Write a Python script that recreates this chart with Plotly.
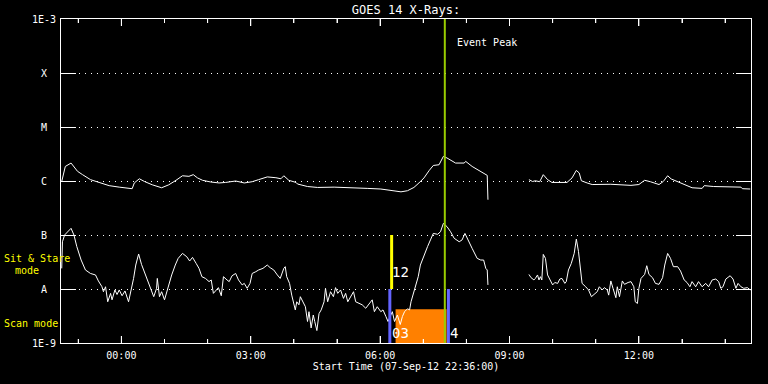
import math
import pandas as pd
import plotly.graph_objects as go

# ---------------- data ----------------
start_time = "2012-09-07 22:36"
end_time = "2012-09-08 14:36"

class_labels = ["1E-9", "A", "B", "C", "M", "X", "1E-3"]
class_values = [1e-9, 1e-8, 1e-7, 1e-6, 1e-5, 1e-4, 1e-3]

x_tick_labels = ["00:00", "03:00", "06:00", "09:00", "12:00"]

# long channel (upper curve), first segment
long_times_a = ["22:37", "22:39", "22:42", "22:50", "22:54", "22:59", "23:06", "23:17", "23:29", "23:43",
                "23:57", "00:15", "00:18", "00:25", "00:32", "00:43", "00:56", "01:06", "01:16", "01:25",
                "01:34", "01:40", "01:46", "01:53", "02:04", "02:16", "02:25", "02:39", "02:51", "03:02",
                "03:11", "03:23", "03:35", "03:42", "03:46", "03:53", "04:03", "04:05", "04:19", "04:33",
                "04:56", "05:19", "05:42", "06:01", "06:15", "06:29", "06:38", "06:47", "06:54", "07:01",
                "07:08", "07:14", "07:22", "07:28", "07:33", "07:45", "07:57", "07:59", "08:08", "08:18",
                "08:29", "08:30"]
long_flux_a = [9.8e-7, 1.31e-6, 1.86e-6, 2.15e-6, 1.86e-6, 1.51e-6, 1.31e-6, 1.06e-6, 9.4e-7, 8.2e-7,
               7.7e-7, 7.2e-7, 9.2e-7, 1.10e-6, 9.8e-7, 8.5e-7, 7.5e-7, 8.5e-7, 1.03e-6, 1.25e-6,
               1.22e-6, 1.31e-6, 1.14e-6, 1.03e-6, 9.6e-7, 9.2e-7, 9.4e-7, 1.0e-6, 9.2e-7, 9.7e-7,
               1.06e-6, 1.19e-6, 1.15e-6, 1.10e-6, 1.25e-6, 1.03e-6, 9.4e-7, 8.8e-7, 7.9e-7, 7.6e-7,
               7.7e-7, 7.6e-7, 7.3e-7, 7.1e-7, 6.6e-7, 6.3e-7, 6.6e-7, 7.6e-7, 9.2e-7, 1.14e-6,
               1.55e-6, 1.94e-6, 2.0e-6, 2.86e-6, 2.67e-6, 2.15e-6, 2.15e-6, 2.31e-6, 1.86e-6, 1.55e-6,
               1.27e-6, 4.5e-7]

# long channel, second segment
long_times_b = ["09:27", "09:32", "09:36", "09:42", "09:47", "09:53", "09:59", "10:16", "10:20", "10:27",
                "10:33", "10:37", "10:40", "10:48", "10:55", "11:21", "11:35", "11:49", "12:00", "12:08",
                "12:16", "12:28", "12:34", "12:40", "12:45", "12:54", "13:05", "13:14", "13:28", "13:31",
                "13:44", "14:08", "14:22", "14:24", "14:35"]
long_flux_b = [1.06e-6, 9.8e-7, 1.01e-6, 9.7e-7, 1.31e-6, 1.06e-6, 9.4e-7, 9.2e-7, 9.4e-7, 1.14e-6,
               1.57e-6, 1.41e-6, 1.01e-6, 9.2e-7, 8.6e-7, 8.7e-7, 8.6e-7, 8.3e-7, 8.6e-7, 1.03e-6,
               9.7e-7, 8.6e-7, 9.8e-7, 1.25e-6, 1.09e-6, 9.8e-7, 8.4e-7, 7.5e-7, 7.3e-7, 8.2e-7,
               7.9e-7, 7.7e-7, 7.7e-7, 7.2e-7, 7.1e-7]

# short channel (lower curve), first segment
short_times_a = ["22:37", "22:38", "22:41", "22:46", "22:50", "22:54", "22:58", "23:04", "23:10", "23:17",
                 "23:24", "23:28", "23:33", "23:35", "23:38", "23:41", "23:45", "23:47", "23:51", "23:54",
                 "23:57", "00:01", "00:05", "00:10", "00:14", "00:17", "00:20", "00:24", "00:28", "00:32",
                 "00:37", "00:42", "00:45", "00:49", "00:50", "00:53", "00:56", "01:00", "01:03", "01:07",
                 "01:10", "01:15", "01:19", "01:25", "01:31", "01:35", "01:39", "01:44", "01:48", "01:52",
                 "01:57", "02:02", "02:05", "02:08", "02:12", "02:15", "02:19", "02:22", "02:27", "02:30",
                 "02:34", "02:39", "02:43", "02:48", "02:51", "02:55", "02:59", "03:02", "03:07", "03:11",
                 "03:17", "03:23", "03:27", "03:32", "03:37", "03:41", "03:46", "03:48", "03:50", "03:54",
                 "03:57", "04:02", "04:04", "04:07", "04:09", "04:13", "04:16", "04:19", "04:21", "04:24",
                 "04:27", "04:29", "04:32", "04:35", "04:38", "04:42", "04:44", "04:47", "04:51", "04:55",
                 "04:58", "05:01", "05:05", "05:09", "05:12", "05:15", "05:19", "05:23", "05:26", "05:31",
                 "05:35", "05:40", "05:45", "05:49", "05:52", "05:56", "06:01", "06:04", "06:08", "06:11",
                 "06:17", "06:20", "06:24", "06:28", "06:31", "06:34", "06:38", "06:41", "06:43", "06:46",
                 "06:49", "06:53", "06:56", "07:01", "07:06", "07:10", "07:14", "07:20", "07:24", "07:28",
                 "07:33", "07:38", "07:43", "07:50", "07:54", "07:58", "08:02", "08:08", "08:15", "08:20",
                 "08:24", "08:27", "08:29", "08:30"]
short_flux_a = [2.41e-8, 7.5e-8, 1.0e-7, 1.15e-7, 1.33e-7, 1.0e-7, 6.1e-8, 3.44e-8, 2.25e-8, 1.94e-8,
                1.82e-8, 1.41e-8, 1.10e-8, 8.9e-9, 1.10e-8, 5.8e-9, 8.3e-9, 6.3e-9, 9.6e-9, 7.9e-9,
                9.6e-9, 7.5e-9, 9.2e-9, 5.8e-9, 9.6e-9, 1.57e-8, 2.78e-8, 4.45e-8, 2.86e-8, 2.09e-8,
                1.37e-8, 9.6e-9, 7.2e-9, 1.03e-8, 1.57e-8, 7.2e-9, 8.9e-9, 6.3e-9, 8.9e-9, 1.27e-8,
                1.82e-8, 2.78e-8, 3.69e-8, 4.56e-8, 3.96e-8, 3.30e-8, 3.85e-8, 2.98e-8, 2.41e-8, 1.69e-8,
                1.57e-8, 1.37e-8, 1.47e-8, 8.3e-9, 9.6e-9, 1.06e-8, 7.5e-9, 1.69e-8, 1.47e-8, 1.37e-8,
                1.76e-8, 1.94e-8, 1.47e-8, 1.19e-8, 1.27e-8, 1.03e-8, 1.27e-8, 1.94e-8, 2.09e-8, 2.25e-8,
                2.41e-8, 2.78e-8, 2.48e-8, 2.25e-8, 1.82e-8, 1.57e-8, 2.41e-8, 2.59e-8, 1.69e-8, 1.27e-8,
                7.7e-9, 4.1e-9, 5.8e-9, 5.1e-9, 7.2e-9, 5.4e-9, 4.7e-9, 2.5e-9, 3.8e-9, 1.9e-9,
                3.3e-9, 2.5e-9, 1.7e-9, 3.5e-9, 4.1e-9, 5.8e-9, 1.03e-8, 5.8e-9, 8.9e-9, 7.2e-9,
                1.06e-8, 8.3e-9, 9.6e-9, 6.7e-9, 8.3e-9, 5.8e-9, 7.2e-9, 8.9e-9, 5.8e-9, 5.4e-9,
                5.1e-9, 4.4e-9, 5.4e-9, 6.3e-9, 3.8e-9, 4.7e-9, 3.8e-9, 4.1e-9, 3.1e-9, 2.5e-9,
                3.8e-9, 2.5e-9, 3.3e-9, 2.2e-9, 3.1e-9, 3.8e-9, 4.3e-9, 4.1e-9, 5.8e-9, 8.3e-9,
                1.19e-8, 1.69e-8, 2.78e-8, 4.26e-8, 6.1e-8, 8.1e-8, 1.07e-7, 1.03e-7, 1.15e-7, 1.64e-7,
                1.43e-7, 1.15e-7, 8.7e-8, 7.5e-8, 8.1e-8, 1.07e-7, 8.1e-8, 5.65e-8, 3.69e-8, 3.44e-8,
                3.44e-8, 2.41e-8, 2.25e-8, 1.19e-8]

# short channel, second segment
short_times_b = ["09:27", "09:30", "09:34", "09:36", "09:39", "09:41", "09:43", "09:45", "09:47", "09:50",
                 "09:53", "09:56", "10:00", "10:03", "10:07", "10:10", "10:13", "10:17", "10:19", "10:22",
                 "10:26", "10:30", "10:33", "10:36", "10:39", "10:41", "10:46", "10:50", "10:54", "10:58",
                 "11:02", "11:05", "11:09", "11:12", "11:16", "11:18", "11:21", "11:24", "11:28", "11:30",
                 "11:33", "11:37", "11:40", "11:45", "11:49", "11:53", "11:55", "11:58", "12:00", "12:03",
                 "12:08", "12:11", "12:14", "12:19", "12:23", "12:28", "12:33", "12:36", "12:40", "12:44",
                 "12:48", "12:54", "12:58", "13:03", "13:07", "13:11", "13:14", "13:19", "13:23", "13:28",
                 "13:33", "13:37", "13:42", "13:47", "13:51", "13:54", "13:57", "14:01", "14:07", "14:11",
                 "14:15", "14:18", "14:22", "14:26", "14:31", "14:35"]
short_flux_b = [1.86e-8, 1.62e-8, 1.47e-8, 1.57e-8, 1.82e-8, 1.47e-8, 1.69e-8, 1.47e-8, 4.37e-8, 3.69e-8,
                1.82e-8, 1.47e-8, 1.19e-8, 1.32e-8, 1.27e-8, 1.53e-8, 1.57e-8, 1.27e-8, 1.37e-8, 2.25e-8,
                2.98e-8, 4.56e-8, 8.4e-8, 4.91e-8, 1.94e-8, 1.27e-8, 1.10e-8, 9.6e-9, 7.2e-9, 7.9e-9,
                8.9e-9, 1.10e-8, 9.6e-9, 1.06e-8, 9.6e-9, 7.7e-9, 1.41e-8, 1.03e-8, 6.9e-9, 1.10e-8,
                7.2e-9, 1.41e-8, 1.22e-8, 1.32e-8, 1.37e-8, 1.10e-8, 5.8e-9, 5.4e-9, 1.03e-8, 1.57e-8,
                1.86e-8, 2.70e-8, 1.86e-8, 1.62e-8, 1.27e-8, 1.22e-8, 1.62e-8, 2.78e-8, 4.56e-8, 3.69e-8,
                2.59e-8, 2.59e-8, 2.15e-8, 1.47e-8, 1.32e-8, 1.10e-8, 1.37e-8, 1.10e-8, 1.37e-8, 1.10e-8,
                1.27e-8, 1.10e-8, 1.47e-8, 1.53e-8, 1.37e-8, 1.03e-8, 1.10e-8, 1.53e-8, 1.76e-8, 1.53e-8,
                1.03e-8, 1.27e-8, 1.10e-8, 1.03e-8, 1.06e-8, 9.6e-9]

# observation markers
event_peak_time = "07:30"
sit_stare_time = "06:16"
sit_stare_range = [1e-8, 1e-7]
scan_times = ["06:13:30", "07:35"]
scan_range = [1e-9, 1e-8]
scan_block_times = ["06:21:30", "07:32:30"]
scan_block_range = [1e-9, 4.2e-9]
obs_labels = ["12", "03", "4"]

# ---------------- helpers ----------------
def to_dt(t):
    h = int(t[:2])
    day = "2012-09-07" if h >= 22 else "2012-09-08"
    if len(t) == 5:
        t = t + ":00"
    return f"{day} {t}"

WHITE = "#ffffff"
GREEN = "#99cc00"
BLUE = "#6464ff"
ORANGE = "#ff8000"
YELLOW = "#ffff00"
FONT = "DejaVu Sans Mono"
HOUR_MS = 3600000
plot_w = 690.0
plot_h = 324.0
px_per_decade = plot_h / 6.0

fig = go.Figure()

# orange scan block
bx0, bx1 = to_dt(scan_block_times[0]), to_dt(scan_block_times[1])
fig.add_trace(go.Scatter(
    x=[bx0, bx1, bx1, bx0, bx0],
    y=[scan_block_range[0], scan_block_range[0], scan_block_range[1], scan_block_range[1], scan_block_range[0]],
    fill="toself", fillcolor=ORANGE, line=dict(width=0, color=ORANGE), mode="lines", hoverinfo="skip"))

# curves
for tt, ff in [(long_times_a, long_flux_a), (long_times_b, long_flux_b),
               (short_times_a, short_flux_a), (short_times_b, short_flux_b)]:
    fig.add_trace(go.Scatter(x=[to_dt(t) for t in tt], y=ff, mode="lines",
                             line=dict(color=WHITE, width=1)))

# blue scan markers
for t in scan_times:
    fig.add_trace(go.Scatter(x=[to_dt(t), to_dt(t)], y=scan_range, mode="lines",
                             line=dict(color=BLUE, width=3)))

# yellow sit & stare marker
fig.add_trace(go.Scatter(x=[to_dt(sit_stare_time)] * 2, y=sit_stare_range, mode="lines",
                         line=dict(color=YELLOW, width=3)))

# event peak
fig.add_trace(go.Scatter(x=[to_dt(event_peak_time)] * 2, y=[class_values[0], class_values[-1]],
                         mode="lines", line=dict(color=GREEN, width=2)))

# hourly time ticks on bottom and top frame (major every 3 h), sized in axis units
tick_x, tick_y = [], []
lo, hi = math.log10(class_values[0]), math.log10(class_values[-1])
for ts in pd.date_range("2012-09-07 23:00", "2012-09-08 14:00", freq="1h"):
    length = (7 if ts.hour % 3 == 0 else 4) / px_per_decade
    s = ts.strftime("%Y-%m-%d %H:%M")
    tick_x += [s, s, None, s, s, None]
    tick_y += [10 ** lo, 10 ** (lo + length), None, 10 ** hi, 10 ** (hi - length), None]
fig.add_trace(go.Scatter(x=tick_x, y=tick_y, mode="lines", line=dict(color=WHITE, width=1),
                         hoverinfo="skip", cliponaxis=False))

annotations = []
for lab, v in zip(class_labels, class_values):
    annotations.append(dict(text=lab, xref="paper", yref="y", x=-17 / plot_w, y=math.log10(v),
                            xanchor="center", yanchor="middle", showarrow=False,
                            font=dict(color=WHITE, size=10, family=FONT)))

annotations += [
    dict(text="Sit & Stare", xref="paper", yref="paper", x=-59.5 / plot_w, y=(343.3 - 258.7) / plot_h,
         xanchor="left", yanchor="middle", showarrow=False, font=dict(color=YELLOW, size=10, family=FONT)),
    dict(text="mode", xref="paper", yref="paper", x=-48.5 / plot_w, y=(343.3 - 271) / plot_h,
         xanchor="left", yanchor="middle", showarrow=False, font=dict(color=YELLOW, size=10, family=FONT)),
    dict(text="Scan mode", xref="paper", yref="paper", x=-59.5 / plot_w, y=(343.3 - 324) / plot_h,
         xanchor="left", yanchor="middle", showarrow=False, font=dict(color=YELLOW, size=10, family=FONT)),
    dict(text="Event Peak", xref="x", yref="paper", x=to_dt(event_peak_time), xshift=10,
         y=(343.3 - 42.7) / plot_h, xanchor="left", yanchor="middle", showarrow=False,
         font=dict(color=WHITE, size=10, family=FONT)),
    dict(text=obs_labels[0], xref="x", yref="paper", x=to_dt(sit_stare_time), xshift=-2,
         y=(343.3 - 272) / plot_h, xanchor="left", yanchor="middle", showarrow=False,
         font=dict(color=WHITE, size=14, family=FONT)),
    dict(text=obs_labels[1], xref="x", yref="paper", x=to_dt(scan_times[0]), xshift=0,
         y=(343.3 - 333.5) / plot_h, xanchor="left", yanchor="middle", showarrow=False,
         font=dict(color=WHITE, size=14, family=FONT)),
    dict(text=obs_labels[2], xref="x", yref="paper", x=to_dt(scan_times[1]), xshift=0,
         y=(343.3 - 333.5) / plot_h, xanchor="left", yanchor="middle", showarrow=False,
         font=dict(color=WHITE, size=14, family=FONT)),
]

fig.update_layout(
    width=768, height=384,
    margin=dict(l=61, r=17, t=19, b=41),
    paper_bgcolor="black", plot_bgcolor="black",
    showlegend=False,
    font=dict(family=FONT, color=WHITE, size=10),
    title=dict(text="GOES 14 X-Rays:", x=0.5, xref="paper", y=1 - 10 / 384, yref="container",
               xanchor="center", yanchor="middle", font=dict(size=12, color=WHITE, family=FONT)),
    annotations=annotations,
    xaxis=dict(
        type="date", range=[start_time, end_time],
        tickmode="linear", tick0=to_dt(x_tick_labels[0]), dtick=3 * HOUR_MS, tickformat="%H:%M",
        ticks="inside", ticklen=7, tickcolor=WHITE, tickwidth=1,
        showline=True, linecolor=WHITE, linewidth=1, mirror="ticks",
        showgrid=False, zeroline=False,
        ticklabelstandoff=3,
        tickfont=dict(size=10, color=WHITE, family=FONT),
        minor=dict(dtick=HOUR_MS, ticks="inside", ticklen=4,
                   tickcolor=WHITE, tickwidth=1, showgrid=False),
        title=dict(text="Start Time (07-Sep-12 22:36:00)", standoff=2,
                   font=dict(size=10, color=WHITE, family=FONT)),
    ),
    yaxis=dict(
        type="log", range=[-9, -3],
        tickvals=class_values[1:-1], showticklabels=False,
        ticks="inside", ticklen=15, tickcolor=WHITE, tickwidth=1,
        showline=True, linecolor=WHITE, linewidth=1, mirror="ticks",
        showgrid=True, gridcolor=WHITE, gridwidth=1, griddash="1px,5px",
        zeroline=False,
    ),
)

fig.write_html("out.html", config={"displayModeBar": False},
               post_script="document.body.style.margin='0';document.body.style.background='black';")
